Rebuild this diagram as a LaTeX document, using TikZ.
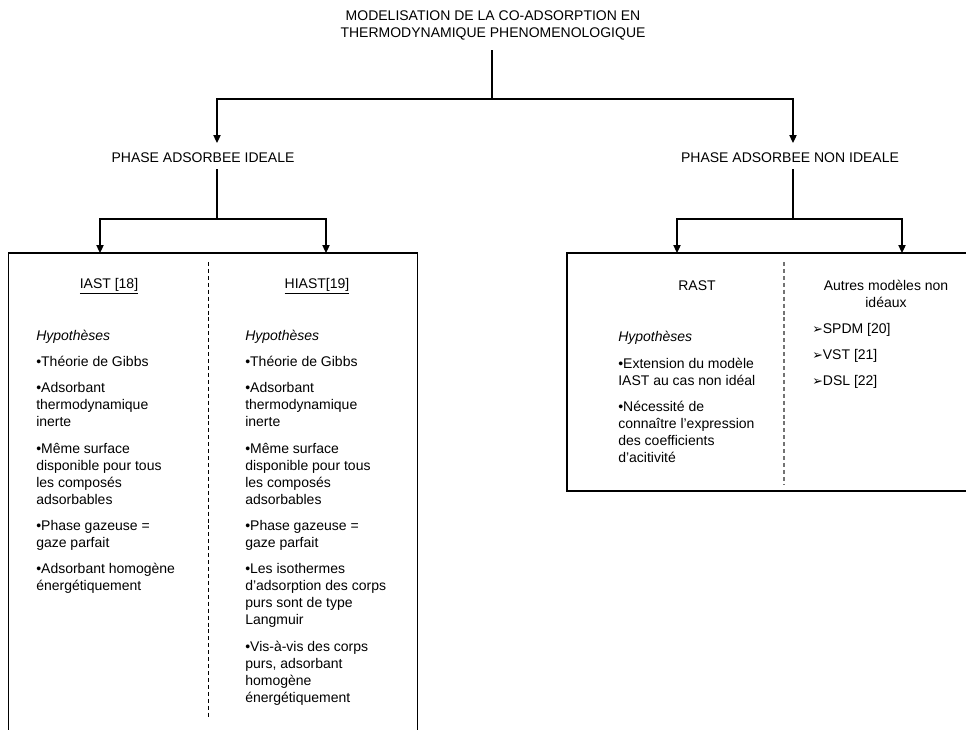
\documentclass[tikz,border=0pt]{standalone}
\usepackage{fontspec}
\setmainfont{Liberation Sans}
\newfontfamily\dejavu{DejaVu Sans}
\usetikzlibrary{arrows.meta}
\newcommand{\pgap}{\\[7pt]}
\newcommand{\chev}{{\dejavu\fontsize{9.5pt}{9.5pt}\selectfont\char"27A2}}
\begin{document}
\begin{tikzpicture}[x=0.75pt,y=-0.75pt,
  every node/.style={font=\fontsize{10.5pt}{12.75pt}\selectfont, inner sep=0pt},
  ln/.style={line width=0.8pt, draw=black},
  arr/.style={ln,-{Triangle[length=6pt,width=5.5pt]}},
  col/.style={anchor=north west, align=left},
  head/.style={anchor=base, align=center},
  mhead/.style={anchor=north, align=center},
  sep/.style={line width=0.7pt, dash pattern=on 3pt off 2.2pt},
  sepgray/.style={line width=0.8pt, draw=black!55, dash pattern=on 3pt off 2.2pt}]
\useasboundingbox (0,0) rectangle (966,729);

% title (first baseline at y=20; node top = baseline - 11.9)
\node[mhead] (t) at (493,8.1) {\strut MODELISATION DE LA CO-ADSORPTION EN\\THERMODYNAMIQUE PHENOMENOLOGIQUE};
\coordinate (tb) at (492,50);
\coordinate (j0) at (492,99);

% phase labels
\node[anchor=base] (p1) at (203,162) {PHASE ADSORBEE IDEALE};
\node[anchor=base] (p2) at (790,162) {PHASE ADSORBEE NON IDEALE};
\coordinate (p1t) at (217,143);
\coordinate (p2t) at (793,143);
\coordinate (p1b) at (217,169);
\coordinate (p2b) at (793,169);
\coordinate (j1) at (217,219);
\coordinate (j2) at (793,219);

% box arrow tips
\coordinate (a1) at (100,253);
\coordinate (a2) at (326,253);
\coordinate (a3) at (677,253);
\coordinate (a4) at (902,253);

% connectors
\draw[ln] (tb) -- (j0);
\draw[arr] (j0) -| (p1t);
\draw[arr] (j0) -| (p2t);
\draw[ln] (p1b) -- (j1);
\draw[ln] (p2b) -- (j2);
\draw[arr] (j1) -| (a1);
\draw[arr] (j1) -| (a2);
\draw[arr] (j2) -| (a3);
\draw[arr] (j2) -| (a4);

% left box (cut at bottom)
\draw[ln] (8.5,740) -- (8.5,253) -- (417.5,253) -- (417.5,740);
\draw[sep] (208,262) -- (208,717);

% right box (cut at right)
\draw[ln] (975,253) -- (567,253) -- (567,491) -- (975,491);
\draw[sepgray] (784,262) -- (784,485);

% left box texts
\node[head] (h1) at (109,288) {\underline{IAST [18]}};
\node[head] (h2) at (317,288) {\underline{HIAST[19]}};

\node[col] (c1) at (36,328.1) {\strut\textit{Hypothèses}\pgap
•Théorie de Gibbs\pgap
•Adsorbant\\thermodynamique\\inerte\pgap
•Même surface\\disponible pour tous\\les composés\\adsorbables\pgap
•Phase gazeuse =\\gaze parfait\pgap
•Adsorbant homogène\\énergétiquement};

\node[col] (c2) at (245,328.1) {\strut\textit{Hypothèses}\pgap
•Théorie de Gibbs\pgap
•Adsorbant\\thermodynamique\\inerte\pgap
•Même surface\\disponible pour tous\\les composés\\adsorbables\pgap
•Phase gazeuse =\\gaze parfait\pgap
•Les isothermes\\d’adsorption des corps\\purs sont de type\\Langmuir\pgap
•Vis-à-vis des corps\\purs, adsorbant\\homogène\\énergétiquement};

% right box texts
\node[head] (h3) at (697,290) {RAST};
\node[mhead] (h4) at (886,278.1) {\strut Autres modèles non\\idéaux};

\node[col] (c3) at (618,329.6) {\strut\textit{Hypothèses}\pgap
•Extension du modèle\\IAST au cas non idéal\pgap
•Nécessité de\\connaître l’expression\\des coefficients\\d’acitivité};

\node[col] (c4) at (812,321.1) {\strut\chev SPDM [20]\pgap
\chev VST [21]\pgap
\chev DSL [22]};

\end{tikzpicture}
\end{document}
